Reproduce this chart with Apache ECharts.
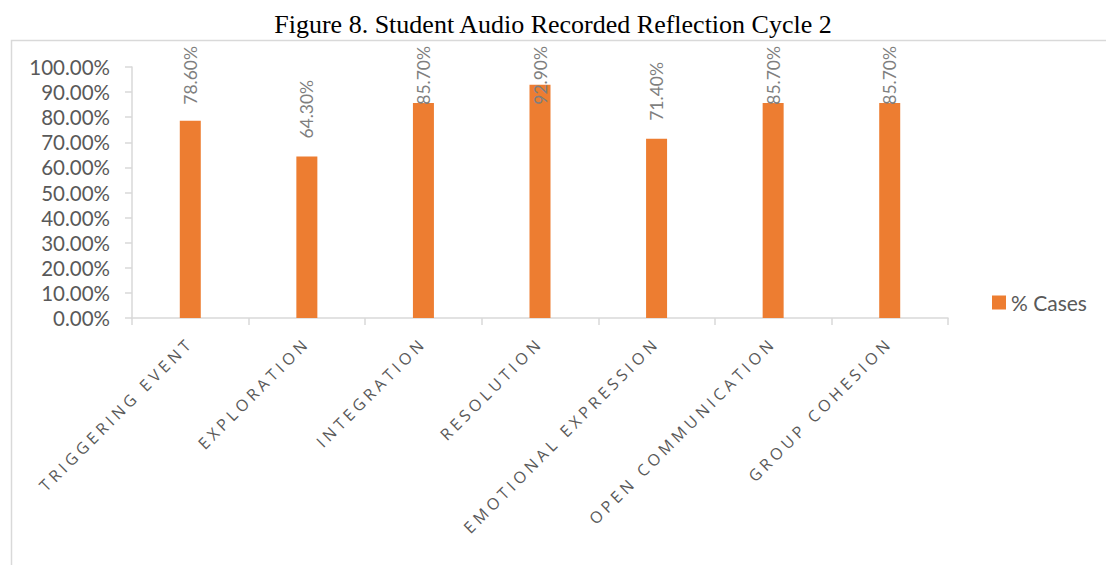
<!DOCTYPE html>
<html>
<head>
<meta charset="utf-8">
<script src="https://cdn.jsdelivr.net/npm/echarts@6/dist/echarts.min.js"></script>
<style>
  html, body { margin: 0; padding: 0; background: #fff; }
  #chart { width: 1106px; height: 565px; }
  /* Excel-style wide tracking on the category labels */
  #chart text[style*="Open Sans"] { letter-spacing: 4px; }
</style>
</head>
<body>
<div id="chart"></div>
<script>
const categories = [
  'TRIGGERING EVENT',
  'EXPLORATION',
  'INTEGRATION',
  'RESOLUTION',
  'EMOTIONAL EXPRESSION',
  'OPEN COMMUNICATION',
  'GROUP COHESION'
]
const casesPct = [78.6, 64.3, 85.7, 92.9, 71.4, 85.7, 85.7]
const seriesName = '% Cases'

const chart = echarts.init(document.getElementById('chart'), null, { renderer: 'svg' })

const labelTopLimit = 46

const option = {
  animation: false,
  title: {
    text: 'Figure 8. Student Audio Recorded Reflection Cycle 2',
    left: 'center',
    top: 6,
    textStyle: {
      fontFamily: 'Liberation Serif',
      fontSize: 26,
      fontWeight: 'normal',
      color: '#000',
    },
  },
  graphic: [
    {
      type: 'rect',
      left: 9,
      top: 38,
      shape: { width: 1300, height: 700 },
      style: { fill: 'none', stroke: '#d9d9d9', lineWidth: 1.5 },
      silent: true,
    },
  ],
  legend: {
    left: 987,
    top: 287,
    itemWidth: 14,
    itemHeight: 14,
    itemGap: 6,
    textStyle: {
      fontFamily: 'Lato',
      fontSize: 21,
      color: '#595959',
    },
    data: [{ name: seriesName, icon: 'rect' }],
  },
  grid: {
    left: 132,
    right: 158,
    top: 67,
    bottom: 247,
  },
  xAxis: {
    type: 'category',
    data: categories,
    axisLine: { lineStyle: { color: '#d9d9d9', width: 1.5 } },
    axisTick: { show: true, length: 7, lineStyle: { color: '#d9d9d9', width: 1.5 } },
    axisLabel: {
      rotate: 45,
      interval: 0,
      margin: 22,
      fontFamily: 'Open Sans',
      fontSize: 16,
      color: '#595959',
    },
  },
  yAxis: {
    type: 'value',
    min: 0,
    max: 100,
    interval: 10,
    axisLine: { show: true, lineStyle: { color: '#d9d9d9', width: 1.5 } },
    axisTick: { show: true, length: 7, lineStyle: { color: '#d9d9d9', width: 1.5 } },
    splitLine: { show: false },
    axisLabel: {
      margin: 22,
      fontFamily: 'Lato',
      fontSize: 20.5,
      color: '#595959',
      formatter: v => v.toFixed(2) + '%',
    },
  },
  series: [
    {
      name: seriesName,
      type: 'bar',
      data: casesPct,
      barWidth: 21,
      itemStyle: { color: '#ED7D31' },
      label: {
        show: true,
        position: 'top',
        rotate: 90,
        align: 'left',
        verticalAlign: 'middle',
        distance: 18,
        fontFamily: 'Lato',
        fontSize: 17.5,
        color: '#7f7f7f',
        formatter: p => p.value.toFixed(2) + '%',
      },
      // keep labels inside the chart area like Excel does
      labelLayout: p => {
        if (p.labelRect.y < labelTopLimit) {
          return { y: labelTopLimit + p.labelRect.height }
        }
        return {}
      },
    },
  ],
}

chart.setOption(option)
</script>
</body>
</html>
